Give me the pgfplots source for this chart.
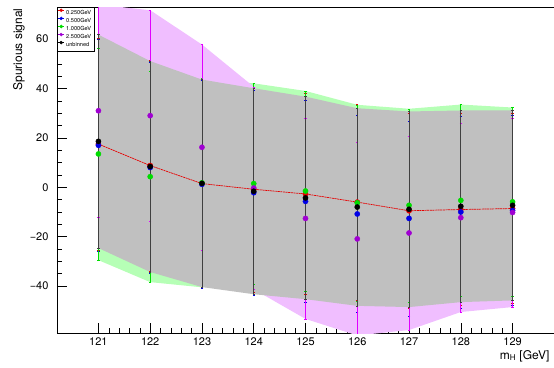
\documentclass[border=0pt]{standalone}
\usepackage{fontspec}
\setmainfont{TeX Gyre Heros}
\usepackage{pgfplots}
\usepackage{pgfplotstable}
\pgfplotsset{compat=1.18}

\definecolor{bandgrey}{RGB}{192,192,192}
\definecolor{bandgreen}{RGB}{182,255,182}
\definecolor{bandpink}{RGB}{240,190,255}
\definecolor{rootgreen}{RGB}{0,220,0}
\definecolor{rootmag}{RGB}{160,0,210}
\definecolor{magbar}{RGB}{225,0,255}
\definecolor{rootred}{RGB}{230,0,0}
\definecolor{rootblue}{RGB}{0,0,230}

\pgfplotstableread{
x y e
121 17.5 43.0
122 8.8 42.6
123 1.5 42.0
124 -0.8 41.5
125 -2.7 40.8
126 -6.0 39.8
127 -9.5 39.5
128 -9.0 38.8
129 -8.6 38.4
}\redtab
\pgfplotstableread{
x y e
121 17.0 43.1
122 8.0 42.7
123 1.2 42.0
124 -2.2 41.6
125 -5.7 40.9
126 -10.8 39.9
127 -12.6 39.5
128 -10.0 38.8
129 -9.4 38.4
}\bluetab
\pgfplotstableread{
x y e
121 13.5 43.0
122 4.3 42.7
123 1.8 42.3
124 1.5 40.6
125 -1.5 40.5
126 -6.3 39.7
127 -7.3 39.1
128 -5.3 38.8
129 -5.9 38.2
}\greentab
\pgfplotstableread{
x y e
121 31.0 43.0
122 29.0 42.7
123 16.2 41.6
124 -0.3 41.0
125 -12.6 40.7
126 -20.9 39.1
127 -18.5 39.3
128 -12.3 38.2
129 -10.2 38.3
}\magtab
\pgfplotstableread{
x y e
121 18.6 43.2
122 8.4 42.7
123 1.6 42.0
124 -1.6 41.7
125 -4.3 41.0
126 -8.0 40.0
127 -8.9 39.6
128 -7.7 38.8
129 -7.3 38.5
}\blacktab

\begin{document}
\begin{tikzpicture}
\path[use as bounding box] (0,0) rectangle (554pt,367pt);
\begin{axis}[
  scale only axis,
  width=497pt, height=326pt,
  at={(57pt,34pt)}, anchor=south west,
  xmin=120.2, xmax=129.8, ymin=-59, ymax=73,
  xtick={121,122,...,129},
  minor x tick num=4,
  ytick={-40,-20,0,20,40,60},
  yticklabels={−40,−20,0,20,40,60},
  minor y tick num=3,
  tick align=inside,
  xtick pos=bottom, ytick pos=left,
  major tick length=10pt, minor tick length=5pt,
  axis line style={black, line width=0.5pt},
  every tick/.style={black, line width=0.5pt},
  /pgf/number format/assume math mode=true,
  xticklabel style={font=\fontsize{11}{13}\selectfont, yshift=-1pt},
  yticklabel style={font=\fontsize{11}{13}\selectfont, xshift=-5pt},
  legend style={at={(0,1)}, anchor=north west, font=\fontsize{5.6}{6}\selectfont,
    draw=black, line width=0.3pt, fill=white, inner xsep=1pt, inner ysep=0.8pt, row sep=-1.6pt,
    legend cell align=left},
  legend image code/.code={\draw[#1, mark size=1.6pt] plot coordinates {(0.16cm,0)};
     \draw[#1, line width=0.4pt] (0.06cm,0) -- (0.26cm,0);},
]
% bands
\addplot[fill=bandgreen, draw=none, forget plot] coordinates {
 (121,56.5) (122,47.0) (123,44.1) (124,42.1) (125,39.0) (126,33.4) (127,31.8) (128,33.5) (129,32.3)
 (129,-44.1) (128,-44.1) (127,-46.4) (126,-46.0) (125,-42.0) (124,-39.1) (123,-40.5) (122,-38.4) (121,-29.5)} -- cycle;
\addplot[fill=bandpink, draw=none, forget plot] coordinates {
 (121,74.0) (122,71.7) (123,57.8) (124,40.7) (125,28.1) (126,18.2) (127,20.8) (128,25.9) (129,28.1)
 (129,-48.5) (128,-50.5) (127,-57.8) (126,-60.0) (125,-53.3) (124,-41.3) (123,-25.4) (122,-13.7) (121,-12.0)} -- cycle;
\addplot[fill=bandgrey, draw=none, forget plot] coordinates {
 (121,61.8) (122,51.1) (123,43.6) (124,40.1) (125,36.7) (126,32.0) (127,30.7) (128,31.1) (129,31.2)
 (129,-45.8) (128,-46.5) (127,-48.5) (126,-48.0) (125,-45.3) (124,-43.3) (123,-40.4) (122,-34.3) (121,-24.6)} -- cycle;
% red line
\addplot[rootred, line width=0.7pt, dash pattern=on 2pt off 0.6pt, forget plot] table[x=x,y=y]{\redtab};
% points
\addplot[only marks, mark=*, mark size=2.6pt, color=rootred,
  error bars/.cd, y dir=both, y explicit,
  error bar style={line width=0.7pt, rootred},
  error mark options={rotate=90, mark size=1.2pt, line width=0.5pt, rootred}]
  table[x=x,y=y,y error=e]{\redtab};
\addlegendentry{0.250GeV}
\addplot[only marks, mark=*, mark size=2.6pt, color=rootblue,
  error bars/.cd, y dir=both, y explicit,
  error bar style={line width=0.7pt, rootblue},
  error mark options={rotate=90, mark size=1.2pt, line width=0.5pt, rootblue}]
  table[x=x,y=y,y error=e]{\bluetab};
\addlegendentry{0.500GeV}
\addplot[only marks, mark=*, mark size=2.6pt, color=rootgreen,
  error bars/.cd, y dir=both, y explicit,
  error bar style={line width=0.8pt, rootgreen},
  error mark options={rotate=90, mark size=1.2pt, line width=0.5pt, rootgreen}]
  table[x=x,y=y,y error=e]{\greentab};
\addlegendentry{1.000GeV}
\addplot[only marks, mark=*, mark size=2.6pt, color=rootmag,
  error bars/.cd, y dir=both, y explicit,
  error bar style={line width=0.8pt, magbar},
  error mark options={rotate=90, mark size=1.2pt, line width=0.5pt, magbar}]
  table[x=x,y=y,y error=e]{\magtab};
\addlegendentry{2.500GeV}
\addplot[only marks, mark=*, mark size=2.6pt, color=black,
  error bars/.cd, y dir=both, y explicit,
  error bar style={line width=0.8pt, black!75},
  error mark options={rotate=90, mark size=1.2pt, line width=0.5pt, black!75}]
  table[x=x,y=y,y error=e]{\blacktab};
\addlegendentry{unbinned}
\end{axis}
\node[rotate=90, anchor=east, font=\fontsize{12}{14}\selectfont] at (19pt,362pt) {Spurious signal};
\node[anchor=base east, font=\fontsize{12}{14}\selectfont] at (553pt,8pt) {m\textsubscript{H} [GeV]};
\end{tikzpicture}
\end{document}
